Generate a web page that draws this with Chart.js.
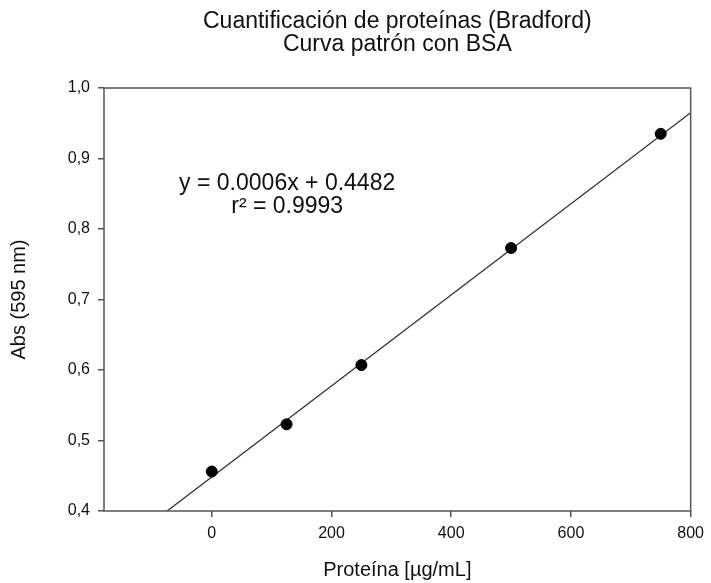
<!DOCTYPE html>
<html>
<head>
<meta charset="utf-8">
<title>Curva patrón BSA</title>
<script src="https://cdn.jsdelivr.net/npm/chart.js@4.4.1/dist/chart.umd.min.js"></script>
<style>
  html, body { margin: 0; padding: 0; background: #fff; }
  #wrap { width: 711px; height: 583px; }
</style>
</head>
<body>
<div id="wrap"><canvas id="curva"></canvas></div>
<script>
  // Patrones de BSA (µg/mL) y absorbancia leída a 595 nm
  var concentraciones = [0, 125, 250, 500, 750];
  var absorbancias = [0.456, 0.523, 0.607, 0.773, 0.935];

  // Recta de regresión
  var PENDIENTE = 0.000646;
  var ORDENADA = 0.4482;
  var ecuacion = ["y = 0.0006x + 0.4482", "r² = 0.9993"];
  var titulo = ["Cuantificación de proteínas (Bradford)", "Curva patrón con BSA"];

  var xTicks = [0, 200, 400, 600, 800];
  var X_MIN = -180, X_MAX = 800;
  var Y_MIN = 0.4, Y_MAX = 1.0;

  var recta = [X_MIN, X_MAX].map(function (x) {
    return { x: x, y: PENDIENTE * x + ORDENADA };
  });
  var puntos = concentraciones.map(function (c, i) {
    return { x: c, y: absorbancias[i] };
  });

  var FUENTE = "'Liberation Sans', Arial, sans-serif";
  var GRIS = "#555";

  // marco, título centrado sobre el área del gráfico y ecuación
  var marco = {
    id: "marco",
    afterDatasetsDraw: function (chart) {
      var a = chart.chartArea, ctx = chart.ctx;
      ctx.save();
      ctx.strokeStyle = GRIS;
      ctx.lineWidth = 1.5;
      ctx.strokeRect(a.left, a.top, a.right - a.left, a.bottom - a.top);

      ctx.fillStyle = "#111";
      ctx.font = "23px " + FUENTE;
      ctx.textAlign = "center";
      ctx.textBaseline = "middle";
      var cx = (a.left + a.right) / 2;
      ctx.fillText(titulo[0], cx, 22);
      ctx.fillText(titulo[1], cx, 45);

      var sx = chart.scales.x, sy = chart.scales.y;
      ctx.fillText(ecuacion[0], sx.getPixelForValue(126), sy.getPixelForValue(0.865));
      ctx.fillText(ecuacion[1], sx.getPixelForValue(126), sy.getPixelForValue(0.831));
      ctx.restore();
    }
  };

  new Chart(document.getElementById("curva"), {
    type: "scatter",
    data: {
      datasets: [{
        type: "line",
        data: recta,
        borderColor: "#333",
        borderWidth: 1.3,
        pointRadius: 0,
        fill: false,
        order: 2
      }, {
        data: puntos,
        backgroundColor: "#000",
        borderColor: "#000",
        pointRadius: 5.5,
        order: 1
      }]
    },
    options: {
      responsive: true,
      maintainAspectRatio: false,
      animation: false,
      layout: { padding: { left: 0, right: 18, top: 88, bottom: 0 } },
      plugins: {
        legend: { display: false },
        tooltip: { enabled: false },
        title: { display: false }
      },
      scales: {
        x: {
          type: "linear",
          min: X_MIN,
          max: X_MAX,
          afterBuildTicks: function (axis) {
            axis.ticks = xTicks.map(function (v) { return { value: v }; });
          },
          afterFit: function (scale) { scale.height = 72; },
          grid: { drawOnChartArea: false, drawTicks: true, tickLength: 6, color: GRIS, tickColor: GRIS, lineWidth: 1.5 },
          border: { display: false },
          ticks: { color: "#111", font: { family: FUENTE, size: 16 }, padding: 7 },
          title: {
            display: true,
            text: "Proteína [µg/mL]",
            color: "#111",
            font: { family: FUENTE, size: 20 },
            padding: { top: 4, bottom: 1 }
          }
        },
        y: {
          min: Y_MIN,
          max: Y_MAX,
          afterFit: function (scale) { scale.width = 104; },
          ticks: {
            stepSize: 0.1,
            color: "#111",
            font: { family: FUENTE, size: 16 },
            padding: 8,
            callback: function (v) { return v.toFixed(1).replace(".", ","); }
          },
          grid: { drawOnChartArea: false, drawTicks: true, tickLength: 6, color: GRIS, tickColor: GRIS, lineWidth: 1.5 },
          border: { display: false },
          title: {
            display: true,
            text: "Abs (595 nm)",
            color: "#111",
            font: { family: FUENTE, size: 20 },
            padding: { top: 7.5, bottom: 4 }
          }
        }
      }
    },
    plugins: [marco]
  });
</script>
</body>
</html>
